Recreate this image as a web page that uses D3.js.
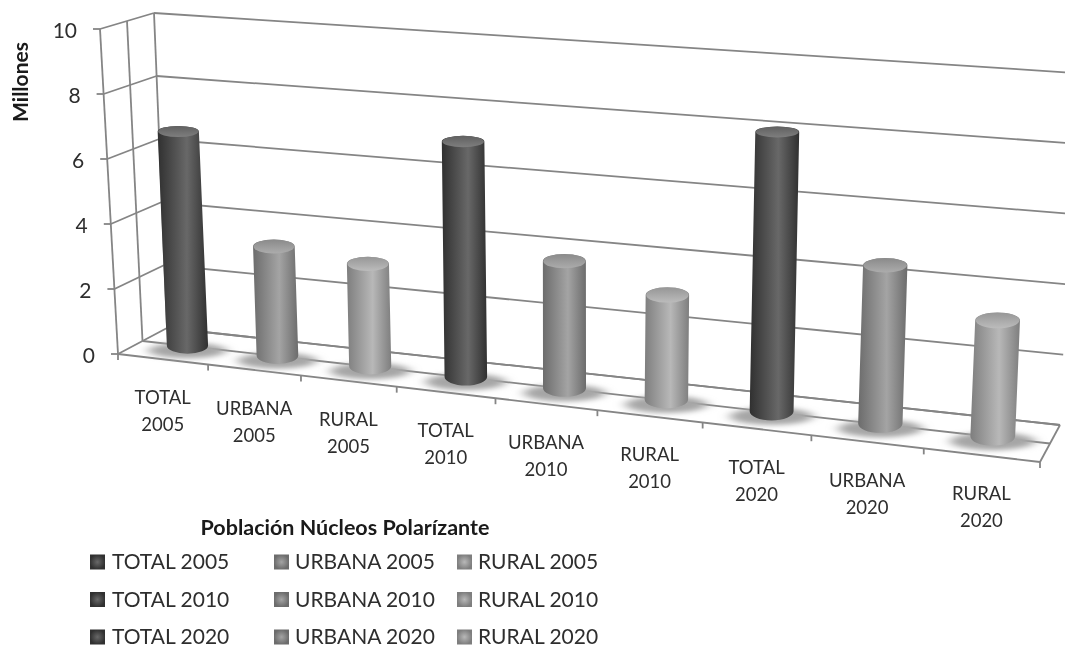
<!DOCTYPE html>
<html lang="en">

<head>
    <meta charset="UTF-8" />
    <title>Población Núcleos Polarízante</title>
    <script src="https://cdn.jsdelivr.net/npm/d3@7"></script>
    <style>
        html, body { margin: 0; padding: 0; background: #fff; overflow: hidden; }
        svg { display: block; filter: blur(0.7px); }
        text { font-family: Lato, "Open Sans", sans-serif; fill: #2e2e2e; }
    </style>
</head>

<body>
    <svg width="1065" height="649"></svg>
    <script>
        // values, in millions
        const categories = ["TOTAL 2005", "URBANA 2005", "RURAL 2005", "TOTAL 2010", "URBANA 2010", "RURAL 2010", "TOTAL 2020", "URBANA 2020", "RURAL 2020"];
        const values = [6.65, 3.35, 3.1, 7.05, 3.75, 3.05, 8.05, 4.5, 3.25];
        const groups = ["TOTAL", "URBANA", "RURAL"];
        const yTicks = [0, 2, 4, 6, 8, 10];
        const chartTitle = "Población Núcleos Polarízante";
        const yTitle = "Millones";

        const svg = d3.select("svg");

        // corners of the 3d box on screen: floor and roof, left and right, front and back
        const box = {
            floor: { lf: [118, 354], lb: [167, 328], rf: [1040, 462], rb: [1060, 425] },
            roof: { lf: [100, 29], lb: [154, 13], rf: [1058, 95], rb: [1076, 73] }
        };

        // perspective along the category axis: slots get wider to the right
        const perspective = t => t / (t + 1.154 * (1 - t));

        const catScale = d3.scaleLinear().domain([0, categories.length]).range([0, 1]);
        const valueScale = d3.scaleLinear().domain([0, 10]).range([0, 1]);
        const radiusScale = d3.scaleLinear().domain([0, 1]).range([20.5, 22.5]);
        const capScale = d3.scaleLinear().domain([130, 440]).range([5.5, 9.5]);

        function onPlane(plane, t, d) {
            const s = perspective(t);
            const front = d3.interpolateNumberArray(plane.lf, plane.rf)(s);
            const back = d3.interpolateNumberArray(plane.lb, plane.rb)(s);
            return d3.interpolateNumberArray(front, back)(d);
        }

        // t along categories (0-1), d depth (0 front, 1 back), v value in millions
        function project(t, d, v) {
            const a = onPlane(box.floor, t, d);
            const b = onPlane(box.roof, t, d);
            return d3.interpolateNumberArray(a, b)(valueScale(v));
        }

        const groupOf = name => groups.indexOf(name.split(" ")[0]);

        const tones = [
            { edge: "#303030", mid: "#686868", cap: "#606060", rim: "#7e7e7e" },
            { edge: "#6c6c6c", mid: "#a4a4a4", cap: "#8a8a8a", rim: "#acacac" },
            { edge: "#7e7e7e", mid: "#b8b8b8", cap: "#969696", rim: "#bcbcbc" }
        ];

        const defs = svg.append("defs");
        const blur = defs.append("filter").attr("id", "soft")
            .attr("x", "-30%").attr("y", "-100%").attr("width", "160%").attr("height", "300%");
        blur.append("feGaussianBlur").attr("stdDeviation", "6 2.5");

        tones.forEach((tone, i) => {
            const g = defs.append("linearGradient").attr("id", "side" + i);
            g.append("stop").attr("offset", "0%").attr("stop-color", tone.edge);
            g.append("stop").attr("offset", "58%").attr("stop-color", tone.mid);
            g.append("stop").attr("offset", "100%").attr("stop-color", tone.edge);

            const c = defs.append("linearGradient").attr("id", "cap" + i)
                .attr("x1", 0).attr("x2", 0).attr("y1", 0).attr("y2", 1);
            c.append("stop").attr("offset", "0%").attr("stop-color", tone.cap);
            c.append("stop").attr("offset", "100%").attr("stop-color", tone.rim);

            const s = defs.append("radialGradient").attr("id", "swatch" + i);
            s.append("stop").attr("offset", "0%").attr("stop-color", tone.mid);
            s.append("stop").attr("offset", "100%").attr("stop-color", tone.edge);
        });

        const line = d3.line();
        const gridColor = "#858585";

        function segment(from, to) {
            svg.append("path")
                .attr("d", line([from, to]))
                .attr("fill", "none")
                .attr("stroke", gridColor)
                .attr("stroke-width", 1.8);
        }

        // back wall and left wall gridlines
        yTicks.forEach(v => {
            segment(project(0, 1, v), project(1, 1, v));
            segment(project(0, 0, v), project(0, 1, v));
            const p = project(0, 0, v);
            segment([p[0] - 7, p[1]], p);
        });
        [0, 0.5, 1].forEach(d => segment(project(0, d, 0), project(0, d, 10)));

        // floor
        [0, 0.5, 1].forEach(d => segment(project(0, d, 0), project(1, d, 0)));
        segment(project(1, 0, 0), project(1, 1, 0));
        d3.range(categories.length + 1).forEach(i => {
            const p = project(catScale(i), 0, 0);
            segment(p, [p[0], p[1] + 6]);
        });

        const barDepth = 0.52;
        const bars = categories.map((name, i) => {
            const t = catScale(i + 0.5);
            return {
                name,
                t,
                tone: groupOf(name),
                base: project(t, barDepth, 0),
                top: project(t, barDepth, values[i]),
                rx: radiusScale(t)
            };
        });

        // floor shadows
        svg.append("g").selectAll("ellipse")
            .data(bars)
            .join("ellipse")
            .attr("cx", d => d.base[0])
            .attr("cy", d => d.base[1] + 5)
            .attr("rx", d => d.rx * 1.9)
            .attr("ry", d => capScale(d.base[1]) * 0.95)
            .attr("fill", "#a6a6a6")
            .attr("filter", "url(#soft)");

        // cylinders
        const cyl = svg.append("g").selectAll("g")
            .data(bars)
            .join("g");

        cyl.append("path")
            .attr("fill", d => `url(#side${d.tone})`)
            .attr("d", d => {
                const rb = capScale(d.base[1]);
                const rt = capScale(d.top[1]);
                return `M${d.top[0] - d.rx},${d.top[1]}L${d.base[0] - d.rx},${d.base[1]}` +
                    `A${d.rx},${rb} 0 0 0 ${d.base[0] + d.rx},${d.base[1]}` +
                    `L${d.top[0] + d.rx},${d.top[1]}A${d.rx},${rt} 0 0 0 ${d.top[0] - d.rx},${d.top[1]}Z`;
            });

        cyl.append("ellipse")
            .attr("cx", d => d.top[0])
            .attr("cy", d => d.top[1])
            .attr("rx", d => d.rx - 0.5)
            .attr("ry", d => capScale(d.top[1]))
            .attr("fill", d => `url(#cap${d.tone})`);

        // value axis labels
        svg.append("g").selectAll("text")
            .data(yTicks)
            .join("text")
            .attr("x", d => project(0, 0, d)[0] - 23)
            .attr("y", d => project(0, 0, d)[1] + 2)
            .attr("dy", "0.35em")
            .attr("text-anchor", "end")
            .attr("font-size", 21)
            .text(d => d);

        svg.append("text")
            .attr("transform", "translate(21,82) rotate(-90)")
            .attr("text-anchor", "middle")
            .attr("dy", "0.35em")
            .attr("font-size", 21)
            .attr("font-weight", 700)
            .style("fill", "#1a1a1a")
            .text(yTitle);

        // category labels, two lines each
        const catLabels = svg.append("g").selectAll("text")
            .data(bars)
            .join("text")
            .attr("text-anchor", "middle")
            .attr("font-size", 18.5)
            .attr("x", d => project(d.t, 0, 0)[0])
            .attr("y", d => project(d.t, 0, 0)[1] + 39);

        catLabels.selectAll("tspan")
            .data(d => d.name.split(" ").map(text => ({ text, x: project(d.t, 0, 0)[0] })))
            .join("tspan")
            .attr("x", d => d.x)
            .attr("dy", (d, i) => i ? 27 : 6)
            .text(d => d.text);

        // legend
        svg.append("text")
            .attr("x", 345)
            .attr("y", 527)
            .attr("dy", "0.35em")
            .attr("text-anchor", "middle")
            .attr("font-size", 21.5)
            .attr("font-weight", 700)
            .style("fill", "#1a1a1a")
            .text(chartTitle);

        const legendCols = { TOTAL: 90, URBANA: 274, RURAL: 457 };
        const legendY = d3.scaleLinear().domain([0, 2]).range([562, 637]);

        const legend = svg.append("g").selectAll("g")
            .data(bars)
            .join("g")
            .attr("transform", (d, i) => `translate(${legendCols[groups[d.tone]]},${legendY(Math.floor(i / 3))})`);

        legend.append("rect")
            .attr("y", -7.5)
            .attr("width", 15)
            .attr("height", 15)
            .attr("fill", d => `url(#swatch${d.tone})`);

        legend.append("text")
            .attr("x", d => d.tone === 0 ? 22 : 21)
            .attr("dy", "0.35em")
            .attr("font-size", 21)
            .text(d => d.name);
    </script>

</body>

</html>
